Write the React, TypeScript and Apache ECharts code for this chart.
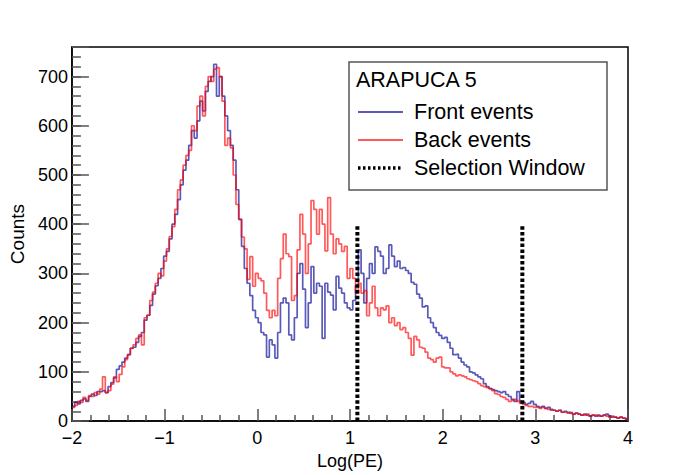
import React, { useEffect, useRef } from "react";
import * as echarts from "echarts";

const X_MIN = -2;
const X_MAX = 4;
const BIN_WIDTH = 0.03;
const Y_MAX = 760;

const front = [
  30, 38, 35, 42, 45, 40, 50, 55, 52, 60,
  60, 62, 58, 70, 78, 88, 105, 112, 120, 128,
  135, 148, 150, 160, 172, 180, 205, 215, 235, 258,
  275, 290, 310, 335, 345, 370, 400, 420, 450, 480,
  510, 530, 560, 590, 575, 610, 650, 630, 670, 690,
  700, 725, 660, 700, 660, 620, 590, 560, 530, 470,
  410, 355, 310, 280, 255, 225, 210, 200, 180, 175,
  130, 165, 155, 128, 180, 240, 250, 240, 175, 165,
  210, 300, 320, 268, 190, 240, 314, 260, 280, 274,
  168, 280, 262, 256, 226, 294, 270, 260, 240, 230,
  226, 245, 275, 348, 300, 240, 290, 320, 300, 354,
  345, 335, 300, 310, 358, 335, 314, 325, 310, 312,
  306, 300, 282, 278, 258, 250, 232, 234, 210, 200,
  190, 180, 174, 168, 170, 160, 148, 135, 136, 128,
  120, 114, 110, 100, 98, 94, 90, 86, 76, 70,
  66, 64, 62, 60, 58, 60, 54, 50, 44, 40,
  60, 40, 38, 34, 36, 40, 34, 30, 28, 30,
  26, 28, 24, 22, 20, 22, 18, 20, 18, 16,
  14, 16, 14, 12, 14, 12, 10, 12, 10, 12,
  10, 12, 14, 10, 8, 8, 6, 8, 6, 4,
];

const back = [
  28, 32, 40, 38, 48, 42, 52, 50, 58, 55,
  65, 90, 58, 62, 75, 90, 80, 95, 110, 125,
  135, 148, 155, 168, 175, 155, 210, 215, 245, 262,
  280, 300, 295, 325, 350, 375, 395, 430, 470, 490,
  520, 540, 550, 600, 590, 640, 660, 620, 680, 700,
  690, 715, 718, 700, 650, 560, 575, 555, 500, 440,
  410, 374, 350, 288, 334, 274, 300, 290, 285, 260,
  225, 210, 225, 214, 290, 330, 380, 340, 334, 245,
  255, 348, 420, 380, 300, 360, 448, 430, 380, 430,
  400, 346, 454, 380, 340, 370, 360, 345, 355, 290,
  310, 290, 260, 280, 260, 265, 214, 240, 274, 230,
  214, 230, 226, 234, 200, 210, 194, 200, 186, 190,
  180, 168, 134, 172, 165, 150, 148, 140, 128, 125,
  120, 128, 130, 110, 108, 108, 100, 96, 92, 94,
  92, 90, 86, 84, 82, 80, 76, 72, 70, 68,
  66, 62, 56, 54, 50, 48, 44, 40, 42, 44,
  40, 36, 34, 32, 30, 30, 28, 28, 26, 28,
  26, 24, 22, 22, 20, 22, 18, 18, 16, 18,
  14, 16, 14, 12, 12, 14, 10, 12, 12, 10,
  10, 12, 10, 8, 10, 8, 6, 8, 6, 5,
];

const selectionWindow = [1.08, 2.86];
const selectionHeight = 400;

const legendTitle = "ARAPUCA 5";
const seriesNames = ["Front events", "Back events", "Selection Window"];

const FONT = "'Liberation Sans', Arial, Helvetica, sans-serif";
const BLUE = "rgba(0,0,150,0.65)";
const RED = "rgba(255,0,0,0.65)";

function toSteps(vals: number[]) {
  const pts: number[][] = vals.map((v, i) => [X_MIN + i * BIN_WIDTH, v]);
  pts.push([X_MAX, vals[vals.length - 1]]);
  return pts;
}

export default function App() {
  const ref = useRef<HTMLDivElement>(null);
  useEffect(() => {
    if (!ref.current) return;
    const chart = echarts.init(ref.current, undefined, { renderer: "svg" });
    const tickColor = "#555";
    const legendText = (text: string, y: number) => ({
      type: "text",
      x: 414,
      y,
      style: { text, fontFamily: FONT, fontSize: 21.5, fill: "#000", verticalAlign: "middle" },
      z: 11,
    });
    const option: any = {
      animation: false,
      textStyle: { fontFamily: FONT },
      grid: {
        left: 69,
        right: 70,
        top: 47,
        bottom: 48,
        show: true,
        borderColor: "#000",
        borderWidth: 1.5,
      },
      xAxis: {
        type: "value",
        min: X_MIN,
        max: X_MAX,
        interval: 1,
        axisLine: { show: true, onZero: false, lineStyle: { color: "#000", width: 1.5 } },
        axisTick: { show: true, inside: true, length: 12, lineStyle: { color: tickColor, width: 1.5 } },
        minorTick: { show: true, splitNumber: 5, length: 6, lineStyle: { color: tickColor, width: 1.5 } },
        splitLine: { show: false },
        minorSplitLine: { show: false },
        axisLabel: {
          fontFamily: FONT,
          fontSize: 18,
          color: "#000",
          margin: 8,
          formatter: (v: number) => String(v).replace("-", "\u2212"),
        },
        name: "Log(PE)",
        nameLocation: "middle",
        nameGap: 27,
        nameTextStyle: { fontFamily: FONT, fontSize: 18, color: "#000" },
      },
      yAxis: [
        {
          type: "value",
          position: "left",
          min: 0,
          max: Y_MAX,
          interval: 100,
          axisLine: { show: true, onZero: false, lineStyle: { color: "#000", width: 1.5 } },
          axisTick: { show: true, inside: true, length: 17, lineStyle: { color: tickColor, width: 1.5 } },
          splitLine: { show: false },
          axisLabel: {
            fontFamily: FONT,
            fontSize: 18,
            color: "#000",
            margin: 4,
            formatter: (v: number) => (v % 100 === 0 ? String(v) : ""),
          },
          name: "Counts",
          nameLocation: "middle",
          nameGap: 40,
          nameTextStyle: { fontFamily: FONT, fontSize: 19, color: "#000" },
        },
        {
          type: "value",
          position: "left",
          min: 0,
          max: Y_MAX,
          interval: 20,
          axisLine: { show: false, onZero: false },
          axisTick: { show: true, inside: true, length: 9, lineStyle: { color: tickColor, width: 1.5 } },
          axisLabel: { show: false },
          splitLine: { show: false },
        },
      ],
      series: [
        {
          name: seriesNames[0],
          type: "line",
          step: "end",
          data: toSteps(front),
          showSymbol: false,
          lineStyle: { color: BLUE, width: 1.7 },
          z: 2,
        },
        {
          name: seriesNames[1],
          type: "line",
          step: "end",
          data: toSteps(back),
          showSymbol: false,
          lineStyle: { color: RED, width: 1.7 },
          z: 3,
        },
        ...selectionWindow.map((x) => ({
          name: seriesNames[2],
          type: "line",
          data: [
            [x, 0],
            [x, selectionHeight],
          ],
          showSymbol: false,
          lineStyle: { color: "#000", width: 4, type: [3.5, 2.3] },
          z: 4,
        })),
      ],
      graphic: [
        {
          type: "rect",
          shape: { x: 349, y: 62, width: 258, height: 128 },
          style: { fill: "#fff", stroke: "#555", lineWidth: 1.5 },
          z: 10,
        },
        {
          type: "text",
          x: 356,
          y: 80,
          style: { text: legendTitle, fontFamily: FONT, fontSize: 21.5, fill: "#000", verticalAlign: "middle" },
          z: 11,
        },
        {
          type: "line",
          shape: { x1: 358, y1: 112, x2: 403, y2: 112 },
          style: { stroke: BLUE, lineWidth: 2 },
          z: 11,
        },
        legendText(seriesNames[0], 112),
        {
          type: "line",
          shape: { x1: 358, y1: 140, x2: 403, y2: 140 },
          style: { stroke: RED, lineWidth: 2 },
          z: 11,
        },
        legendText(seriesNames[1], 140),
        {
          type: "line",
          shape: { x1: 358, y1: 168, x2: 403, y2: 168 },
          style: { stroke: "#000", lineWidth: 3.5, lineDash: [2.5, 2.5] },
          z: 11,
        },
        legendText(seriesNames[2], 168),
      ],
    };
    chart.setOption(option);
    return () => chart.dispose();
  }, []);
  return (
    <div
      ref={ref}
      style={{ position: "fixed", left: 0, top: 0, width: 698, height: 475, background: "#fff" }}
    />
  );
}
